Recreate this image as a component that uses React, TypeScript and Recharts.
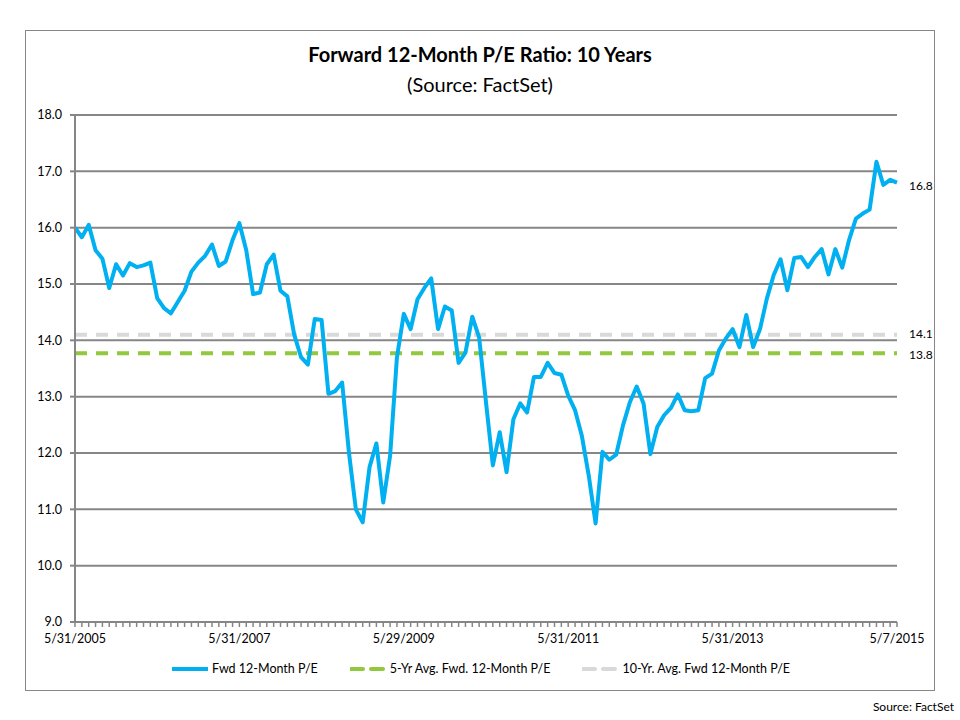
import { LineChart, Line, XAxis, YAxis, CartesianGrid, ReferenceLine } from 'recharts'

// monthly forward 12-month P/E, 5/31/2005 .. 5/7/2015 (121 points)
const PE = [
  16.0, 15.83, 16.05, 15.6, 15.45, 14.93, 15.35, 15.15, 15.37, 15.3,
  15.33, 15.38, 14.75, 14.57, 14.48, 14.68, 14.88, 15.22, 15.38, 15.5,
  15.7, 15.32, 15.4, 15.78, 16.08, 15.6, 14.82, 14.85, 15.35, 15.52,
  14.88, 14.78, 14.1, 13.7, 13.57, 14.38, 14.36, 13.05, 13.1, 13.25,
  12.0, 11.0, 10.77, 11.75, 12.17, 11.12, 11.95, 13.7, 14.47, 14.2,
  14.73, 14.93, 15.1, 14.2, 14.6, 14.53, 13.6, 13.78, 14.42, 14.05,
  12.9, 11.78, 12.37, 11.66, 12.6, 12.88, 12.72, 13.35, 13.35, 13.6,
  13.42, 13.39, 13.02, 12.76, 12.3, 11.6, 10.75, 12.02, 11.88, 11.97,
  12.49, 12.9, 13.18, 12.88, 11.98, 12.46, 12.67, 12.8, 13.04, 12.76,
  12.74, 12.76, 13.33, 13.41, 13.82, 14.03, 14.2, 13.88, 14.45, 13.88,
  14.2, 14.74, 15.16, 15.44, 14.89, 15.46, 15.48, 15.3, 15.48, 15.62,
  15.17, 15.62, 15.29, 15.78, 16.16, 16.25, 16.32, 17.17, 16.76, 16.85,
  16.8,
]

const TICK_INDEX = [0, 24, 48, 72, 96, 120]
const TICK_LABELS = ['5/31/2005', '5/31/2007', '5/29/2009', '5/31/2011', '5/31/2013', '5/7/2015']
const Y_TICKS = [9, 10, 11, 12, 13, 14, 15, 16, 17, 18]

const AVG_5YR = 13.77
const AVG_10YR = 14.1

const BLUE = '#00B0F0'
const GREEN = '#92C83E'
const LIGHT = '#D9D9D9'
const GRID = '#868686'
const FONT = 'Lato, "Open Sans", sans-serif'

const data = PE.map((pe, i) => ({ i, pe }))
const allTicks = data.map((d) => d.i)

function XTick(props: any) {
  const { x, y, payload } = props
  const k = TICK_INDEX.indexOf(payload.value)
  if (k < 0) return null
  return (
    <text x={x} y={y} dy={12} textAnchor="middle" fontSize={12.5} fill="#000" fontFamily={FONT}>
      {TICK_LABELS[k]}
    </text>
  )
}

function LastLabel(props: any) {
  const { x, y, index } = props
  if (index !== PE.length - 1) return null
  return (
    <text x={x + 12} y={y + 7} fontSize={12} fill="#000" fontFamily={FONT}>
      {PE[index].toFixed(1)}
    </text>
  )
}

function SideLabel({ viewBox, value, dy }: any) {
  const { x, y, width } = viewBox
  return (
    <text x={x + width + 12} y={y + dy} fontSize={12} fill="#000" fontFamily={FONT}>
      {value}
    </text>
  )
}

function LegendItem({ color, dashed, label }: { color: string; dashed?: boolean; label: string }) {
  return (
    <div style={{ display: 'flex', alignItems: 'center', marginRight: 32 }}>
      <svg width={38} height={8}>
        {dashed ? (
          <>
            <line x1={1} y1={4} x2={13} y2={4} stroke={color} strokeWidth={4} strokeLinecap="round" />
            <line x1={21} y1={4} x2={33} y2={4} stroke={color} strokeWidth={4} strokeLinecap="round" />
          </>
        ) : (
          <line x1={0} y1={4} x2={36} y2={4} stroke={color} strokeWidth={4} />
        )}
      </svg>
      <span style={{ fontSize: 12.5, marginLeft: 2 }}>{label}</span>
    </div>
  )
}

export default function App() {
  return (
    <div style={{ position: 'absolute', left: 0, top: 0, width: 960, height: 720, background: '#fff', fontFamily: FONT }}>
      <div
        style={{
          position: 'absolute', left: 25, top: 30, width: 910, height: 661,
          border: `1px solid ${GRID}`, boxSizing: 'border-box',
        }}
      />
      <div style={{ position: 'absolute', left: 0, top: 42, width: 960, textAlign: 'center' }}>
        <div style={{ fontSize: 20, fontWeight: 700 }}>Forward 12-Month P/E Ratio: 10 Years</div>
        <div style={{ fontSize: 20, marginTop: 6 }}>(Source: FactSet)</div>
      </div>

      <div style={{ position: 'absolute', left: 0, top: 0 }}>
        <LineChart width={960} height={720} data={data} margin={{ top: 115, right: 63, bottom: 68, left: 25 }}>
          <CartesianGrid vertical={false} stroke={GRID} strokeWidth={2} />
          <XAxis
            dataKey="i"
            ticks={allTicks}
            interval={0}
            tick={<XTick />}
            tickSize={5}
            tickMargin={4}
            height={30}
            padding={{ left: 0, right: 0 }}
            axisLine={{ stroke: GRID, strokeWidth: 2 }}
            tickLine={{ stroke: GRID, strokeWidth: 1.5 }}
          />
          <YAxis
            domain={[9, 18]}
            ticks={Y_TICKS}
            width={50}
            tickFormatter={(v: number) => v.toFixed(1)}
            tick={{ fontSize: 12.5, fill: '#000', fontFamily: FONT }}
            tickSize={5}
            tickMargin={8}
            axisLine={{ stroke: GRID, strokeWidth: 2 }}
            tickLine={{ stroke: GRID, strokeWidth: 2 }}
          />
          <ReferenceLine
            y={AVG_10YR}
            stroke={LIGHT}
            strokeWidth={4}
            strokeDasharray="12 9"
            label={<SideLabel value={AVG_10YR.toFixed(1)} dy={3} />}
          />
          <ReferenceLine
            y={AVG_5YR}
            stroke={GREEN}
            strokeWidth={4}
            strokeDasharray="12 9"
            label={<SideLabel value={AVG_5YR.toFixed(1)} dy={6} />}
          />
          <Line
            dataKey="pe"
            type="linear"
            stroke={BLUE}
            strokeWidth={4}
            dot={false}
            strokeLinejoin="round"
            isAnimationActive={false}
            label={<LastLabel />}
          />
        </LineChart>
      </div>

      <div style={{ position: 'absolute', left: 172, top: 661, display: 'flex' }}>
        <LegendItem color={BLUE} label="Fwd 12-Month P/E" />
        <LegendItem color={GREEN} dashed label="5-Yr Avg. Fwd. 12-Month P/E" />
        <LegendItem color={LIGHT} dashed label="10-Yr. Avg. Fwd 12-Month P/E" />
      </div>

      <div style={{ position: 'absolute', right: 6, top: 699, fontSize: 12 }}>Source: FactSet</div>
    </div>
  )
}
